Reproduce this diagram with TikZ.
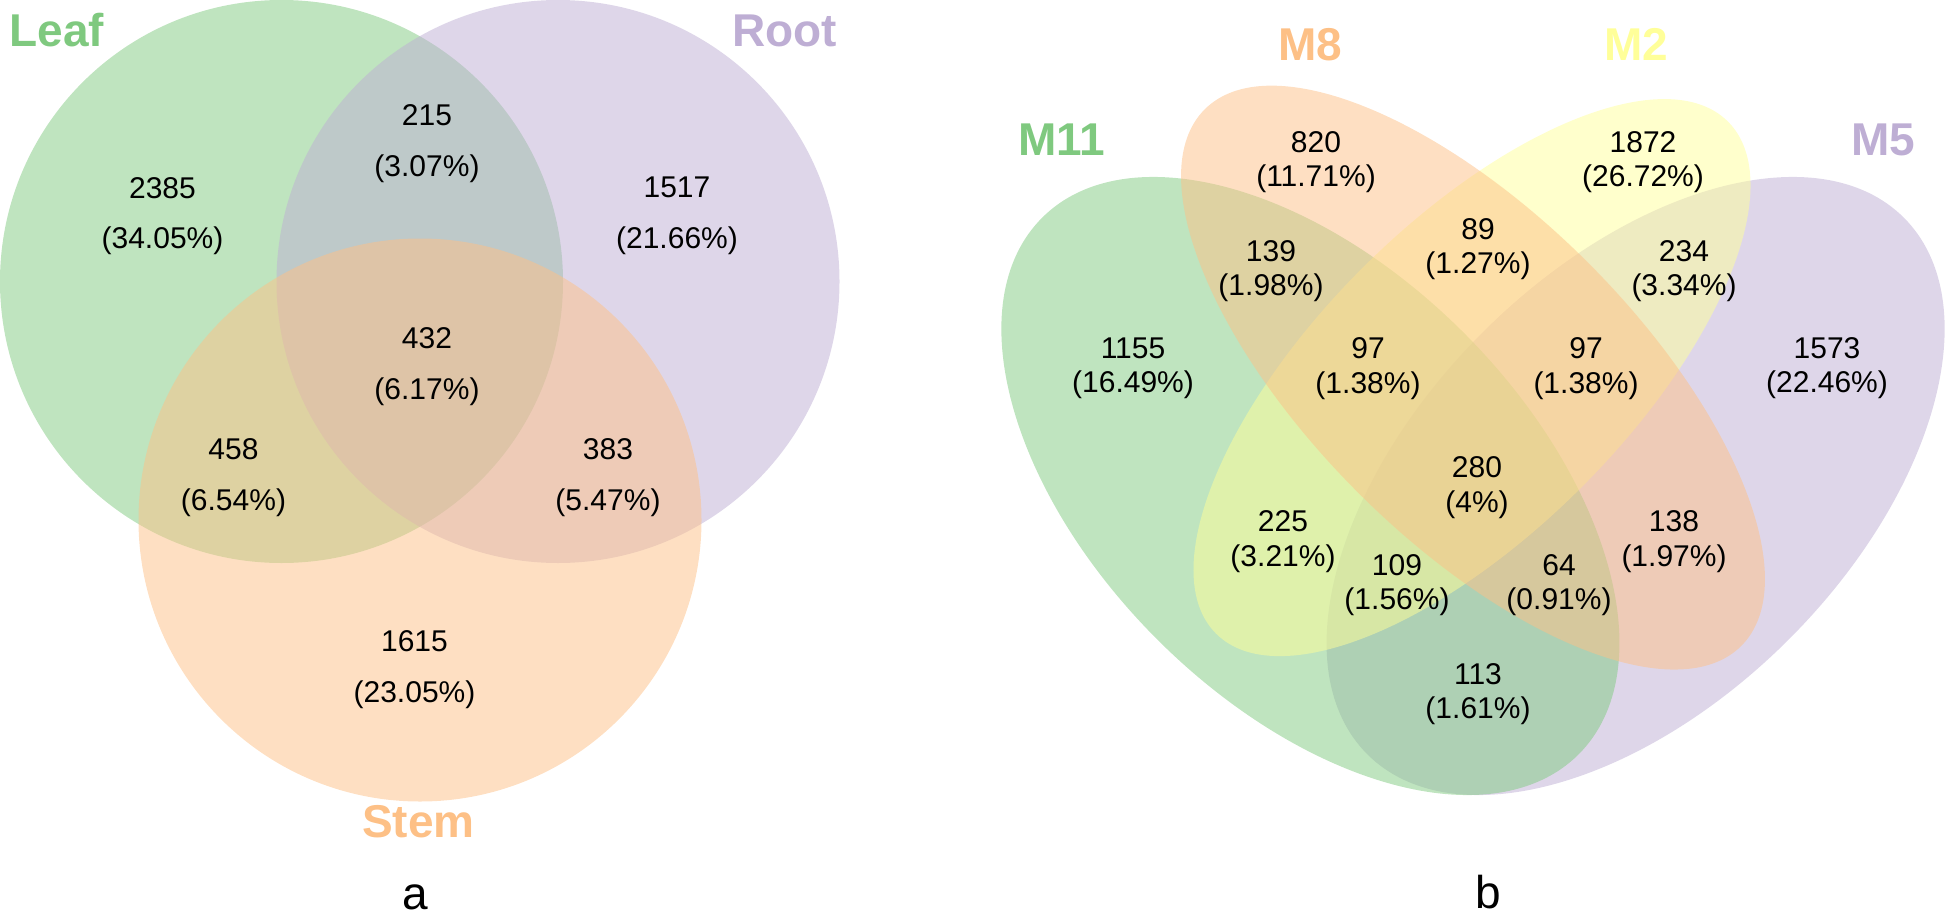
\documentclass[tikz,border=0pt]{standalone}
\usepackage{fontspec}
\setmainfont{Liberation Sans}
\definecolor{leafgreen}{HTML}{7FC97F}
\definecolor{rootpurple}{HTML}{BEAED4}
\definecolor{stemorange}{HTML}{FDC086}
\definecolor{mtwoyellow}{HTML}{FFFF99}
\tikzset{
  venn/.style={fill opacity=0.5},
  setname/.style={font=\fontsize{46}{46}\selectfont\bfseries,inner sep=0pt,anchor=base},
  cnta/.style={font=\fontsize{30}{50.7}\selectfont,align=center,inner sep=0pt,anchor=north},
  cntb/.style={font=\fontsize{30}{34.5}\selectfont,align=center,inner sep=0pt,anchor=north},
  panel/.style={font=\fontsize{46}{46}\selectfont,inner sep=0pt,anchor=base}
}

\begin{document}
\begin{tikzpicture}[x=1pt,y=-1pt]
  \useasboundingbox (0,0) rectangle (1945,915);
  \begin{scope}
    \fill[venn,leafgreen] (281.5,281.5) circle[radius=281.5pt];
    \fill[venn,rootpurple] (558,281.5) circle[radius=281.5pt];
    \fill[venn,stemorange] (420,520) circle[radius=281.5pt];
    \node[setname,text=leafgreen] (leaf) at (57,47) {Leaf};
    \node[setname,text=rootpurple] (root) at (784.5,47) {Root};
    \node[setname,text=stemorange] (stem) at (418.5,837.5) {Stem};
    \node[cnta] (n215) at (427,104.5) {215\\(3.07\%)};
    \node[cnta] (n2385) at (162.5,177) {2385\\(34.05\%)};
    \node[cnta] (n1517) at (677,177) {1517\\(21.66\%)};
    \node[cnta] (n432) at (427,327.5) {432\\(6.17\%)};
    \node[cnta] (n458) at (233.5,438.5) {458\\(6.54\%)};
    \node[cnta] (n383) at (608,438.5) {383\\(5.47\%)};
    \node[cnta] (n1615) at (414.5,630.5) {1615\\(23.05\%)};
    \node[panel] (pa) at (415.5,909) {a};
  \end{scope}

  \begin{scope}
    \fill[venn,rootpurple] (1635.6,486) ellipse[x radius=379.4pt,y radius=216.8pt,rotate=45];
    \fill[venn,leafgreen] (1310.4,486) ellipse[x radius=379.4pt,y radius=216.8pt,rotate=-45];
    \fill[venn,mtwoyellow] (1472,377.6) ellipse[x radius=362pt,y radius=155pt,rotate=45];
    \fill[venn,stemorange] (1473,377.6) ellipse[x radius=379.4pt,y radius=162.6pt,rotate=-45];
    \node[setname,text=leafgreen] (m11) at (1062,155) {M11};
    \node[setname,text=stemorange] (m8) at (1310.5,61) {M8};
    \node[setname,text=mtwoyellow] (m2) at (1636.5,61) {M2};
    \node[setname,text=rootpurple] (m5) at (1883,155) {M5};
    \node[cntb] (n820) at (1316,131) {820\\(11.71\%)};
    \node[cntb] (n1872) at (1643,131) {1872\\(26.72\%)};
    \node[cntb] (n139) at (1271,240) {139\\(1.98\%)};
    \node[cntb] (n89) at (1478,218) {89\\(1.27\%)};
    \node[cntb] (n234) at (1684,240) {234\\(3.34\%)};
    \node[cntb] (n1155) at (1133,337.5) {1155\\(16.49\%)};
    \node[cntb] (n97l) at (1368,337.5) {97\\(1.38\%)};
    \node[cntb] (n97r) at (1586,337.5) {97\\(1.38\%)};
    \node[cntb] (n1573) at (1827,337) {1573\\(22.46\%)};
    \node[cntb] (n280) at (1477,456.5) {280\\(4\%)};
    \node[cntb] (n225) at (1283,510.5) {225\\(3.21\%)};
    \node[cntb] (n138) at (1674,510.5) {138\\(1.97\%)};
    \node[cntb] (n109) at (1397,554) {109\\(1.56\%)};
    \node[cntb] (n64) at (1559,554) {64\\(0.91\%)};
    \node[cntb] (n113) at (1478,663) {113\\(1.61\%)};
    \node[panel] (pb) at (1488,908) {b};
  \end{scope}
\end{tikzpicture}
\end{document}
